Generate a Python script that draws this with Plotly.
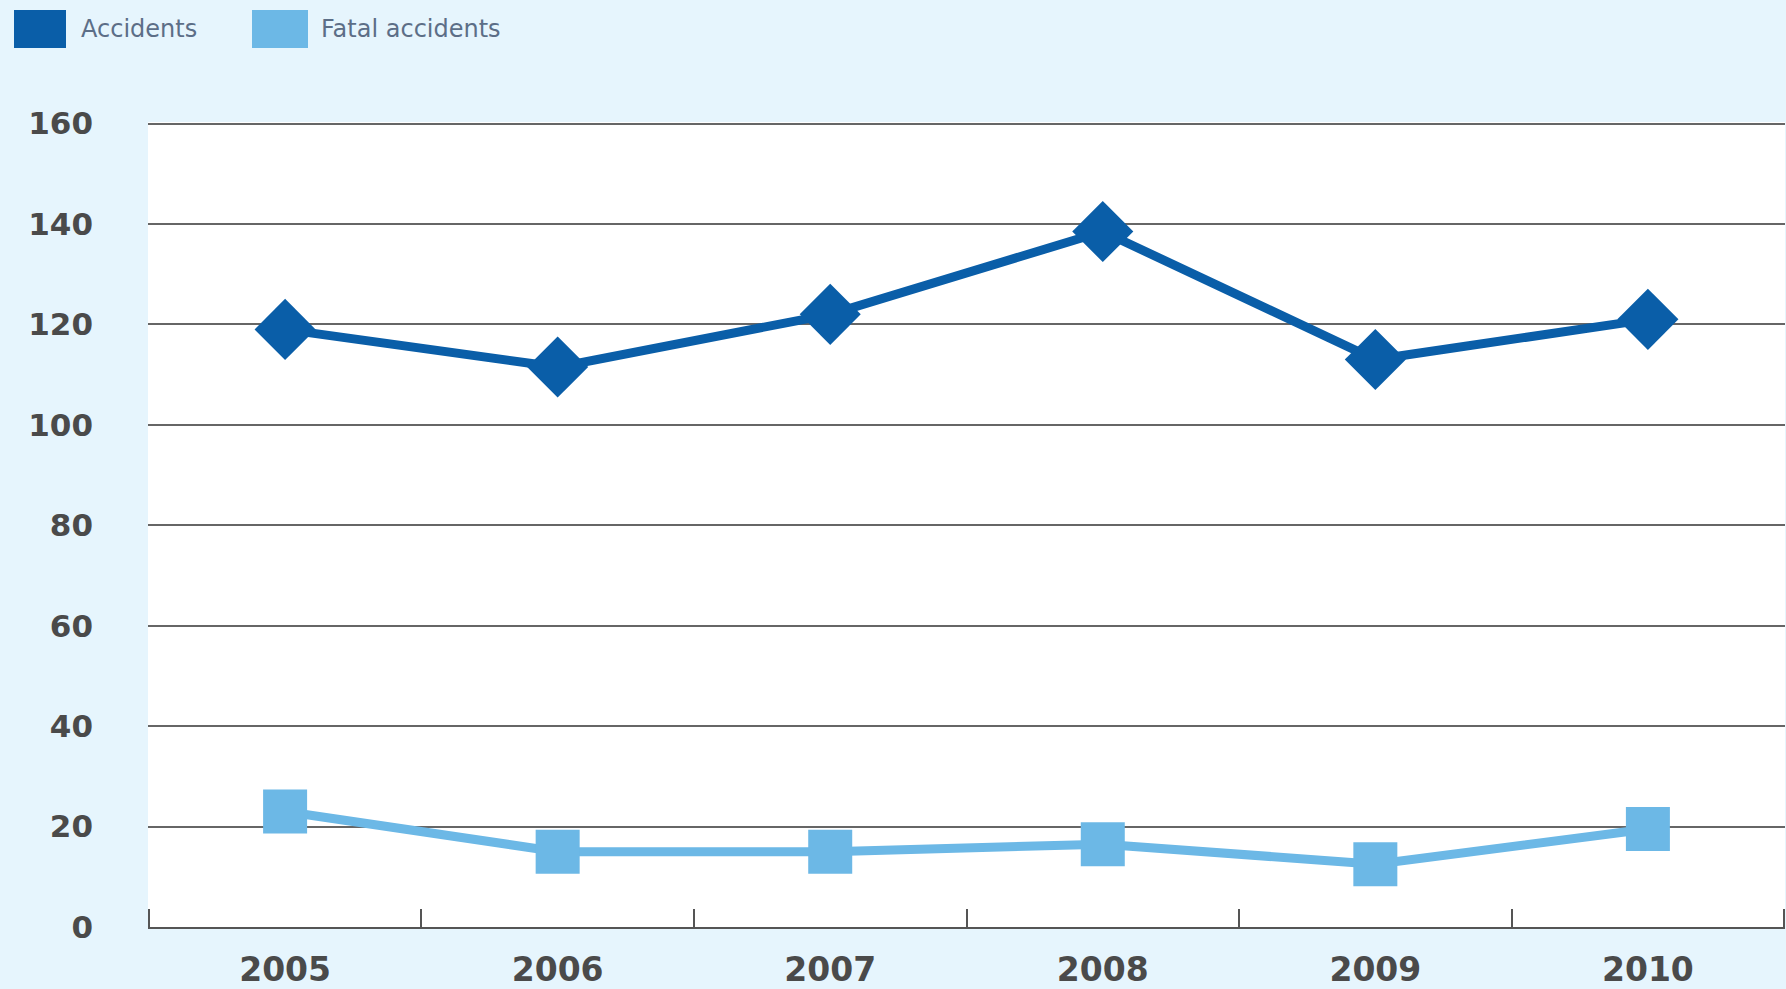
import plotly.graph_objects as go

years = ["2005", "2006", "2007", "2008", "2009", "2010"]
accidents = [119, 111.5, 122, 138.5, 113, 121]
fatal_accidents = [23, 15, 15, 16.5, 12.5, 19.5]
y_ticks = [0, 20, 40, 60, 80, 100, 120, 140, 160]
series_names = ["Accidents", "Fatal accidents"]

DARK = "#0a5ea8"
LIGHT = "#6cb8e6"
BG = "#e6f5fd"
AXIS = "#555555"

W, H = 1786, 989
ML, MR, MT, MB = 148, 1, 122, 62
PW, PH = W - ML - MR, H - MT - MB


def px_x(px):
    return (px - ML) / PW


def px_y(py):
    return (H - MB - py) / PH


fig = go.Figure()
fig.add_trace(go.Scatter(
    x=years, y=accidents, name=series_names[0], mode="lines+markers",
    line=dict(color=DARK, width=9),
    marker=dict(symbol="diamond", size=47, color=DARK),
    showlegend=False, cliponaxis=False,
))
fig.add_trace(go.Scatter(
    x=years, y=fatal_accidents, name=series_names[1], mode="lines+markers",
    line=dict(color=LIGHT, width=9),
    marker=dict(symbol="square", size=44, color=LIGHT),
    showlegend=False, cliponaxis=False,
))

# end ticks of the category axis (outer boundaries)
for xb in (px_x(ML + 1), px_x(W - MR - 1)):
    fig.add_shape(type="line", xref="paper", yref="paper",
                  x0=xb, x1=xb, y0=0, y1=18 / PH,
                  line=dict(color=AXIS, width=2))

# custom legend (large swatches)
legend_items = [
    (14, 66, 79, DARK, series_names[0]),
    (252, 308, 319, LIGHT, series_names[1]),
]
for x0, x1, tx, col, name in legend_items:
    fig.add_shape(type="rect", xref="paper", yref="paper",
                  x0=px_x(x0), x1=px_x(x1), y0=px_y(48), y1=px_y(10),
                  fillcolor=col, line=dict(width=0), layer="above")
    fig.add_annotation(xref="paper", yref="paper", x=px_x(tx), y=px_y(29),
                       text=name, showarrow=False, xanchor="left", yanchor="middle",
                       font=dict(family="DejaVu Sans", size=24, color="#5c6e87"))

fig.update_layout(
    width=W, height=H,
    margin=dict(l=ML, r=MR, t=MT, b=MB),
    paper_bgcolor=BG, plot_bgcolor="white",
    xaxis=dict(
        type="category", categoryorder="array", categoryarray=years,
        range=[-0.503, 5.503], showgrid=False, zeroline=False,
        showline=True, linecolor=AXIS, linewidth=2,
        ticks="inside", tickson="boundaries", ticklen=18, tickwidth=2, tickcolor=AXIS,
        tickfont=dict(family="DejaVu Sans", size=33, color="#4a4a4a", weight="bold"),
        ticklabelstandoff=12,
    ),
    yaxis=dict(
        range=[0, 160.3], tickvals=y_ticks, ticktext=[str(v) for v in y_ticks],
        showgrid=True, gridcolor="#666666", gridwidth=2,
        zeroline=False, showline=False, ticks="",
        tickfont=dict(family="DejaVu Sans", size=31, color="#4a4a4a", weight="bold"),
        ticklabelstandoff=54,
    ),
)

fig.write_html("out.html")
